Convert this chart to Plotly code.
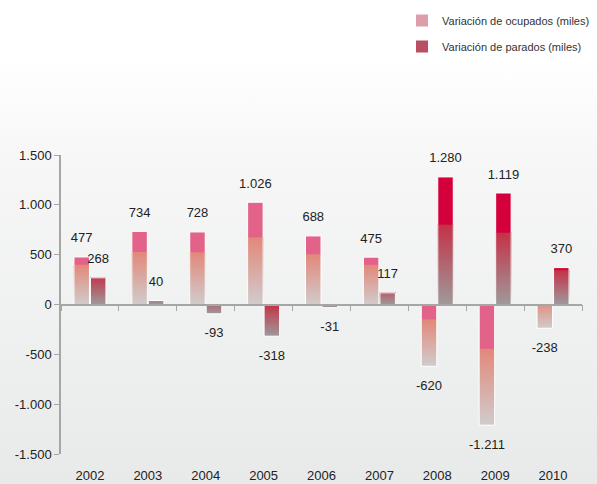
import base64
import plotly.graph_objects as go

# ---- data ----
years = ["2002", "2003", "2004", "2005", "2006", "2007", "2008", "2009", "2010"]
ocupados = [477, 734, 728, 1026, 688, 475, -620, -1211, -238]
parados = [268, 40, -93, -318, -31, 117, 1280, 1119, 370]
ytick_vals = [-1500, -1000, -500, 0, 500, 1000, 1500]
ytick_text = ["-1.500", "-1.000", "-500", "0", "500", "1.000", "1.500"]
name_ocu = "Variación de ocupados (miles)"
name_par = "Variación de parados (miles)"

FONT = "Liberation Sans, Arial, Helvetica, sans-serif"
TXT = "#222222"
AXC = "#a6a6a6"

def lerp(c1, c2, t):
    t = max(0.0, min(1.0, t))
    return "rgb(%d,%d,%d)" % tuple(round(a + (b - a) * t) for a, b in zip(c1, c2))

def fmt(v):
    return f"{v:,}".replace(",", ".")

series = [
    dict(vals=ocupados, name=name_ocu, grp="o",
         base=(208, 204, 204), mid=(226, 136, 122), top=(226, 98, 138),
         legend="#dc9ea8"),
    dict(vals=parados, name=name_par, grp="p",
         base=(158, 154, 154), mid=(196, 50, 72), top=(212, 0, 60),
         legend="#b94f62"),
]

N = 30
LABEL_GAP = 85  # distance (in axis units) between bar end and its value label

fig = go.Figure()
for s in series:
    vals = s["vals"]
    # gradient slices (drawn bottom -> top, each overlapping the next to avoid seams)
    for k in range(N):
        bases, ys, cols = [], [], []
        for v in vals:
            h = abs(v)
            full = 0.5 * h + 160
            g = min(h, full)
            bottom = 0 if v >= 0 else -h
            u0 = g * k / N
            t = ((k + 0.5) / N) * g / full
            bases.append(bottom + u0)
            ys.append(g - u0)
            cols.append(lerp(s["base"], s["mid"], t))
        fig.add_trace(go.Bar(x=years, y=ys, base=bases, offsetgroup=s["grp"],
                             marker=dict(color=cols, line=dict(width=0)),
                             showlegend=False, hoverinfo="skip"))
    # solid top band
    bases, ys = [], []
    for v in vals:
        h = abs(v)
        g = min(h, 0.5 * h + 160)
        bottom = 0 if v >= 0 else -h
        if h > g:
            bases.append(bottom + g)
            ys.append(h - g)
        else:
            bases.append(None)
            ys.append(None)
    fig.add_trace(go.Bar(x=years, y=ys, base=bases, offsetgroup=s["grp"],
                         marker=dict(color="rgb(%d,%d,%d)" % s["top"], line=dict(width=0)),
                         showlegend=False, hoverinfo="skip"))
    # white outline
    fig.add_trace(go.Bar(x=years, y=vals, offsetgroup=s["grp"], name=s["name"],
                         marker=dict(color="rgba(0,0,0,0)", line=dict(color="white", width=1)),
                         showlegend=False, hoverinfo="x+y"))
    # value labels (transparent carrier bars beyond the bar end)
    fig.add_trace(go.Bar(x=years, base=vals,
                         y=[LABEL_GAP if v >= 0 else -LABEL_GAP for v in vals],
                         offsetgroup=s["grp"], text=[fmt(v) for v in vals],
                         textposition="outside", constraintext="none", cliponaxis=False,
                         textfont=dict(size=13, color=TXT, family=FONT),
                         marker=dict(color="rgba(0,0,0,0)", line=dict(width=0)),
                         showlegend=False, hoverinfo="skip"))
    # legend entry
    fig.add_trace(go.Bar(x=[years[0]], y=[None], offsetgroup=s["grp"], name=s["name"],
                         legendgroup=s["grp"], marker=dict(color=s["legend"], line=dict(width=0)),
                         showlegend=True, hoverinfo="skip"))

# invisible trace for the zero-line category axis
fig.add_trace(go.Scatter(x=years, y=[0] * len(years), xaxis="x2", mode="markers",
                         marker=dict(opacity=0, size=1), showlegend=False, hoverinfo="skip"))

svg = ('<svg xmlns="http://www.w3.org/2000/svg" width="10" height="100" viewBox="0 0 10 100" '
       'preserveAspectRatio="none"><defs><linearGradient id="g" x1="0" y1="0" x2="0" y2="1">'
       '<stop offset="0" stop-color="#ffffff"/><stop offset="0.12" stop-color="#ffffff"/>'
       '<stop offset="0.32" stop-color="#f7f7f7"/><stop offset="1" stop-color="#e8eaea"/>'
       '</linearGradient></defs><rect width="10" height="100" fill="url(#g)"/></svg>')
src = "data:image/svg+xml;base64," + base64.b64encode(svg.encode()).decode()

W, H = 597, 484
ML, MR, MT, MB = 61, 15, 155, 30
pw, ph = W - ML - MR, H - MT - MB

fig.update_layout(
    width=W, height=H, autosize=False,
    margin=dict(l=ML, r=MR, t=MT, b=MB, pad=0, autoexpand=False),
    paper_bgcolor="#f0f0f0", plot_bgcolor="rgba(0,0,0,0)",
    barmode="group", bargap=0.43, bargroupgap=0.06,
    font=dict(family=FONT, color=TXT, size=13),
    images=[dict(source=src, xref="paper", yref="paper", x=-ML / pw, y=1 + MT / ph,
                 sizex=W / pw, sizey=H / ph, xanchor="left", yanchor="top",
                 sizing="stretch", layer="below")],
    xaxis=dict(type="category", categoryorder="array", categoryarray=years,
               range=[-0.5, len(years) - 0.5], showline=False, showgrid=False,
               zeroline=False, ticks="outside", ticklen=9, tickcolor="rgba(0,0,0,0)",
               tickfont=dict(size=13, color=TXT, family=FONT), fixedrange=True),
    xaxis2=dict(type="category", categoryorder="array", categoryarray=years,
                range=[-0.5, len(years) - 0.5], overlaying="x", anchor="free",
                position=0.5, side="bottom", showline=True, linecolor=AXC, linewidth=1.5,
                ticks="outside", tickson="boundaries", ticklen=6, tickcolor=AXC,
                tickwidth=1, showticklabels=False, showgrid=False, zeroline=False),
    yaxis=dict(range=[-1500, 1500], tickvals=ytick_vals, ticktext=ytick_text,
               showline=True, linecolor=AXC, linewidth=1.5, ticks="outside",
               ticklen=5, tickcolor=AXC, showgrid=False, zeroline=False,
               tickfont=dict(size=13, color=TXT, family=FONT)),
    legend=dict(x=(402 - ML) / pw, y=1 + (MT - 6) / ph, xanchor="left", yanchor="top",
                traceorder="grouped", tracegroupgap=7, bgcolor="rgba(0,0,0,0)",
                font=dict(size=11, color="#333333", family=FONT)),
    showlegend=True,
)

fig.write_html("out.html", config={"displayModeBar": False},
               post_script="document.body.style.margin='0';document.body.style.overflow='hidden';")
